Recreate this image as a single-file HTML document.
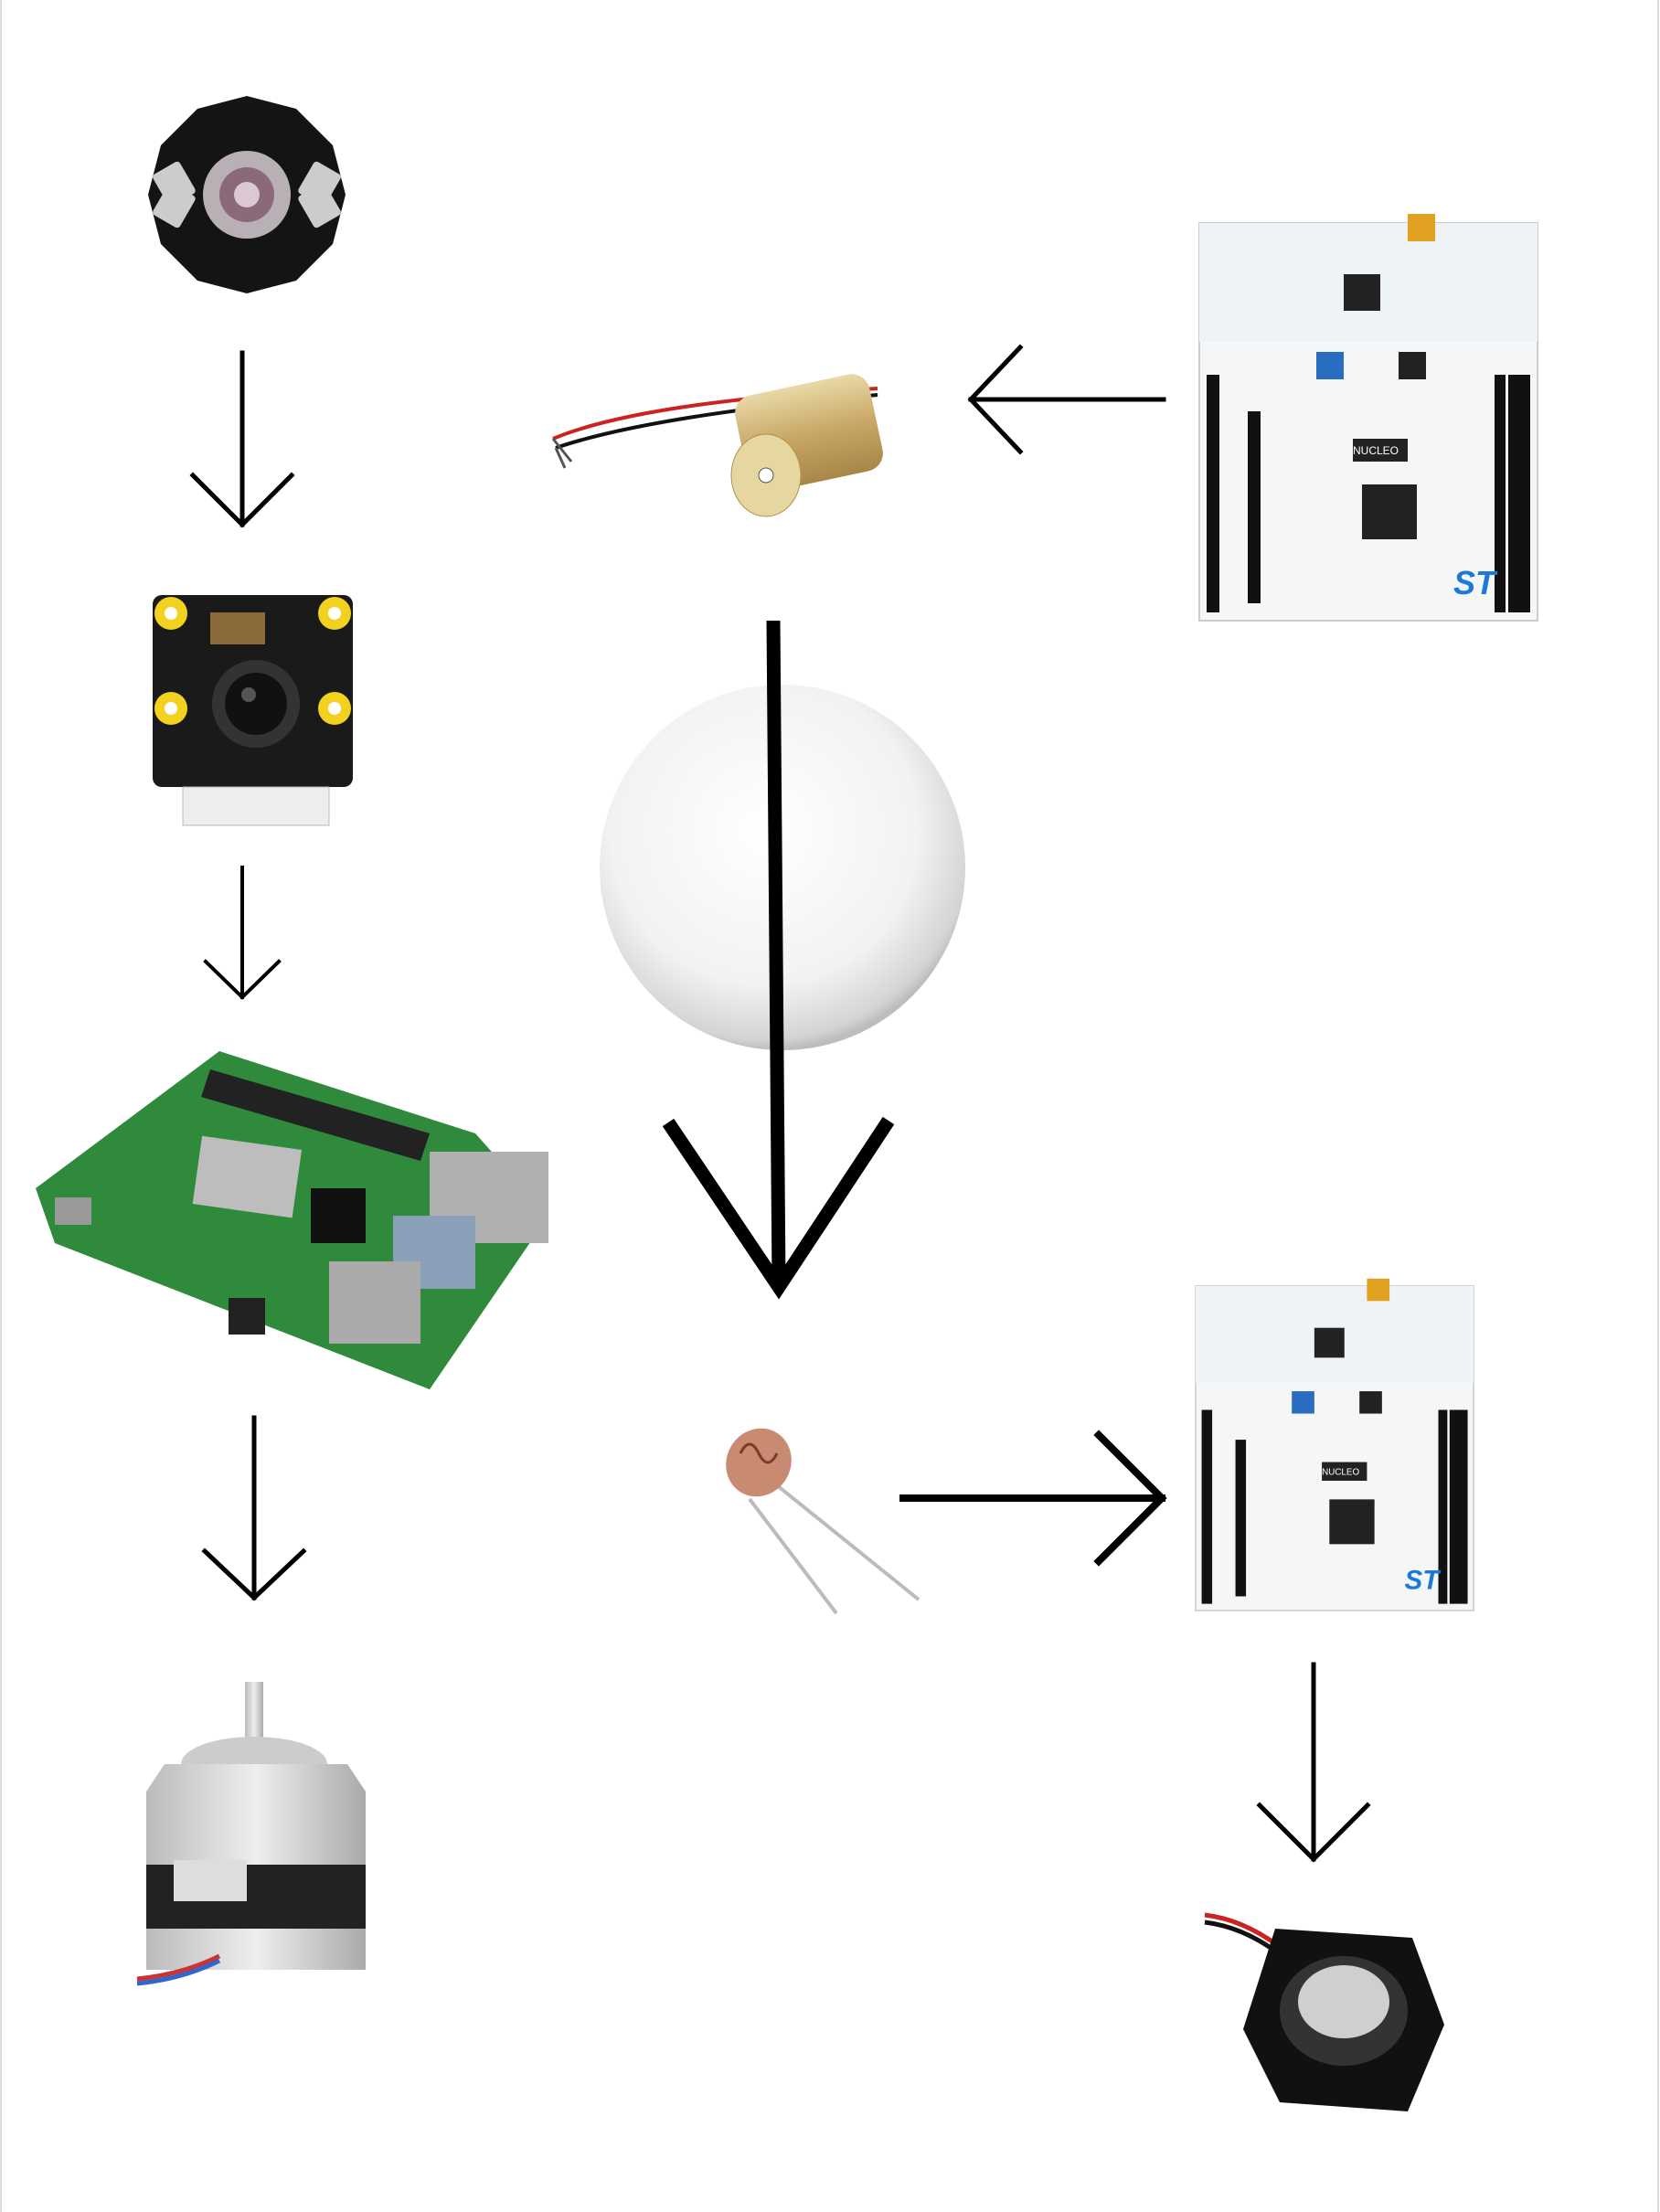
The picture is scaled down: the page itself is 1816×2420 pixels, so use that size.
<!DOCTYPE html>
<html><head><meta charset="utf-8"><style>
html,body{margin:0;padding:0;background:#fff;}
svg{display:block;}
</style></head><body>
<svg width="1816" height="2420" viewBox="0 0 1816 2420" xmlns="http://www.w3.org/2000/svg" font-family="Liberation Sans, sans-serif">
<defs>
<radialGradient id="sph" cx="0.45" cy="0.4" r="0.6">
<stop offset="0" stop-color="#ffffff"/><stop offset="0.7" stop-color="#f2f2f2"/><stop offset="0.95" stop-color="#d4d4d4"/><stop offset="1" stop-color="#bdbdbd"/>
</radialGradient>
<linearGradient id="brass" x1="0" y1="0" x2="0" y2="1"><stop offset="0" stop-color="#e8d9a8"/><stop offset="0.5" stop-color="#c9a866"/><stop offset="1" stop-color="#a88648"/></linearGradient>
<linearGradient id="metal" x1="0" y1="0" x2="1" y2="0"><stop offset="0" stop-color="#bbb"/><stop offset="0.5" stop-color="#eee"/><stop offset="1" stop-color="#aaa"/></linearGradient>
</defs>
<rect x="0" y="0" width="1816" height="2420" fill="#fff"/>
<line x1="1" y1="0" x2="1" y2="2420" stroke="#ddd" stroke-width="2"/>
<line x1="1814" y1="0" x2="1814" y2="2420" stroke="#ddd" stroke-width="2"/>

<!-- LED star -->
<g transform="translate(270,213)">
<polygon points="0,-108 54,-94 94,-54 108,0 94,54 54,94 0,108 -54,94 -94,54 -108,0 -94,-54 -54,-94" fill="#141414"/>
<rect x="-80" y="-70" width="34" height="40" rx="4" fill="#ccc" transform="rotate(-30)"/>
<rect x="46" y="-70" width="34" height="40" rx="4" fill="#ccc" transform="rotate(30)"/>
<rect x="-80" y="30" width="34" height="40" rx="4" fill="#ccc" transform="rotate(30)"/>
<rect x="46" y="30" width="34" height="40" rx="4" fill="#ccc" transform="rotate(-30)"/>
<circle r="48" fill="#b8b0b4"/><circle r="30" fill="#8a6a7a"/><circle r="14" fill="#d9c9d0"/>
</g>

<!-- Camera module -->
<g>
<rect x="167" y="651" width="219" height="210" rx="10" fill="#1a1a1a"/>
<circle cx="187" cy="671" r="18" fill="#f2d21f"/><circle cx="366" cy="671" r="18" fill="#f2d21f"/>
<circle cx="187" cy="775" r="18" fill="#f2d21f"/><circle cx="366" cy="775" r="18" fill="#f2d21f"/>
<circle cx="187" cy="671" r="7" fill="#fff"/><circle cx="366" cy="671" r="7" fill="#fff"/>
<circle cx="187" cy="775" r="7" fill="#fff"/><circle cx="366" cy="775" r="7" fill="#fff"/>
<circle cx="280" cy="770" r="48" fill="#333"/><circle cx="280" cy="770" r="34" fill="#111"/><circle cx="272" cy="760" r="8" fill="#555"/>
<rect x="230" y="670" width="60" height="35" fill="#8a6a3a"/>
<rect x="200" y="861" width="160" height="42" fill="#eee" stroke="#bbb"/>
</g>

<!-- Raspberry Pi -->
<g>
<polygon points="39,1300 240,1150 520,1240 600,1330 470,1520 60,1360" fill="#2f8a3c"/>
<polygon points="230,1170 470,1240 460,1270 220,1200" fill="#222"/>
<rect x="215" y="1250" width="110" height="75" fill="#bdbdbd" transform="rotate(8 270 1290)"/>
<rect x="470" y="1260" width="130" height="100" fill="#b0b0b0"/>
<rect x="430" y="1330" width="90" height="80" fill="#8aa0b8"/>
<rect x="360" y="1380" width="100" height="90" fill="#aaa"/>
<rect x="340" y="1300" width="60" height="60" fill="#111"/>
<rect x="60" y="1310" width="40" height="30" fill="#999"/>
<rect x="250" y="1420" width="40" height="40" fill="#222"/>
</g>

<!-- Stepper motor -->
<g>
<rect x="268" y="1840" width="20" height="80" fill="url(#metal)"/>
<ellipse cx="278" cy="1930" rx="80" ry="30" fill="#ccc"/>
<polygon points="180,1930 380,1930 400,1960 400,2040 160,2040 160,1960" fill="url(#metal)"/>
<rect x="160" y="2040" width="240" height="70" fill="#222"/>
<rect x="190" y="2035" width="80" height="45" fill="#ddd"/>
<rect x="160" y="2110" width="240" height="45" fill="url(#metal)"/>
<path d="M240,2140 Q200,2160 150,2165" stroke="#c33" stroke-width="5" fill="none"/>
<path d="M240,2145 Q200,2165 150,2170" stroke="#36c" stroke-width="5" fill="none"/>
</g>

<!-- Laser -->
<g>
<path d="M605,480 Q700,440 960,425" stroke="#c22" stroke-width="4" fill="none"/>
<path d="M608,490 Q710,455 960,432" stroke="#111" stroke-width="4" fill="none"/>
<path d="M605,480 L625,505 M608,490 L618,512" stroke="#555" stroke-width="3"/>
<rect x="810" y="420" width="150" height="108" rx="20" fill="url(#brass)" transform="rotate(-12 885 474)"/>
<ellipse cx="838" cy="520" rx="38" ry="45" fill="#e6d7a0" stroke="#b09050"/>
<circle cx="838" cy="520" r="8" fill="#fff" stroke="#555"/>
</g>

<!-- Nucleo generic -->
<g id="nuc">
<rect x="1312" y="244" width="370" height="435" fill="#f4f6f8" stroke="#ccc" stroke-width="2"/>
<rect x="1312" y="244" width="370" height="130" fill="#eef3f6"/>
<rect x="1470" y="300" width="40" height="40" fill="#222"/>
<rect x="1540" y="234" width="30" height="30" fill="#e0a020"/>
<rect x="1440" y="385" width="30" height="30" fill="#2a6dc0"/>
<rect x="1530" y="385" width="30" height="30" fill="#222"/>
<rect x="1490" y="530" width="60" height="60" fill="#222"/>
<rect x="1480" y="480" width="60" height="25" fill="#222"/>
<rect x="1365" y="450" width="14" height="210" fill="#111"/>
<rect x="1650" y="410" width="24" height="260" fill="#111"/>
<rect x="1320" y="410" width="14" height="260" fill="#111"/>
<rect x="1635" y="410" width="12" height="260" fill="#111"/>
<text x="1590" y="650" font-size="36" font-style="italic" font-weight="bold" fill="#1c7ad6">ST</text>
<text x="1480" y="497" font-size="12" fill="#fff">NUCLEO</text>
</g>
<g transform="translate(1308,1407) scale(0.822,0.816) translate(-1312,-244)">
<rect x="1312" y="244" width="370" height="435" fill="#f4f6f8" stroke="#ccc" stroke-width="2"/>
<rect x="1312" y="244" width="370" height="130" fill="#eef3f6"/>
<rect x="1470" y="300" width="40" height="40" fill="#222"/>
<rect x="1540" y="234" width="30" height="30" fill="#e0a020"/>
<rect x="1440" y="385" width="30" height="30" fill="#2a6dc0"/>
<rect x="1530" y="385" width="30" height="30" fill="#222"/>
<rect x="1490" y="530" width="60" height="60" fill="#222"/>
<rect x="1480" y="480" width="60" height="25" fill="#222"/>
<rect x="1365" y="450" width="14" height="210" fill="#111"/>
<rect x="1650" y="410" width="24" height="260" fill="#111"/>
<rect x="1320" y="410" width="14" height="260" fill="#111"/>
<rect x="1635" y="410" width="12" height="260" fill="#111"/>
<text x="1590" y="650" font-size="36" font-style="italic" font-weight="bold" fill="#1c7ad6">ST</text>
<text x="1480" y="497" font-size="12" fill="#fff">NUCLEO</text>
</g>

<!-- Sphere -->
<circle cx="856" cy="949" r="200" fill="url(#sph)"/>

<!-- Photoresistor -->
<g>
<path d="M820,1640 L915,1765" stroke="#bbb" stroke-width="4" fill="none"/>
<path d="M850,1625 L1005,1750" stroke="#bbb" stroke-width="4" fill="none"/>
<ellipse cx="830" cy="1600" rx="35" ry="38" fill="#c98a72" transform="rotate(30 830 1600)"/>
<path d="M810,1590 q10,-20 20,0 t20,0" stroke="#7a3a2a" stroke-width="3" fill="none"/>
</g>

<!-- Speaker -->
<g>
<path d="M1318,2095 Q1360,2100 1400,2130" stroke="#c22" stroke-width="5" fill="none"/>
<path d="M1318,2103 Q1360,2108 1400,2138" stroke="#111" stroke-width="5" fill="none"/>
<polygon points="1395,2110 1545,2120 1580,2215 1540,2310 1400,2300 1360,2220" fill="#111"/>
<ellipse cx="1470" cy="2200" rx="70" ry="60" fill="#333"/>
<ellipse cx="1470" cy="2190" rx="50" ry="40" fill="#cfcfcf"/>
</g>

<!-- Arrows -->
<g stroke="#000" fill="none" stroke-linecap="square">
<path d="M265,386 V574 M211,520 L265,574 L319,520" stroke-width="5"/>
<path d="M265,949 V1091 M225,1052 L265,1091 L305,1052" stroke-width="4"/>
<path d="M278,1551 V1748 M224,1697 L278,1748 L332,1697" stroke-width="5"/>
<path d="M1273,437 H1062 M1116,380 L1062,437 L1116,494" stroke-width="5"/>
<path d="M846,679 L852,1405 M731,1228 L852,1408 L972,1226" stroke-width="15" stroke-linecap="butt"/>
<path d="M988,1639 H1271 M1202,1570 L1271,1639 L1202,1708" stroke-width="8"/>
<path d="M1437,1821 V2034 M1378,1975 L1437,2034 L1496,1975" stroke-width="5"/>
</g>
</svg>
</body></html>
